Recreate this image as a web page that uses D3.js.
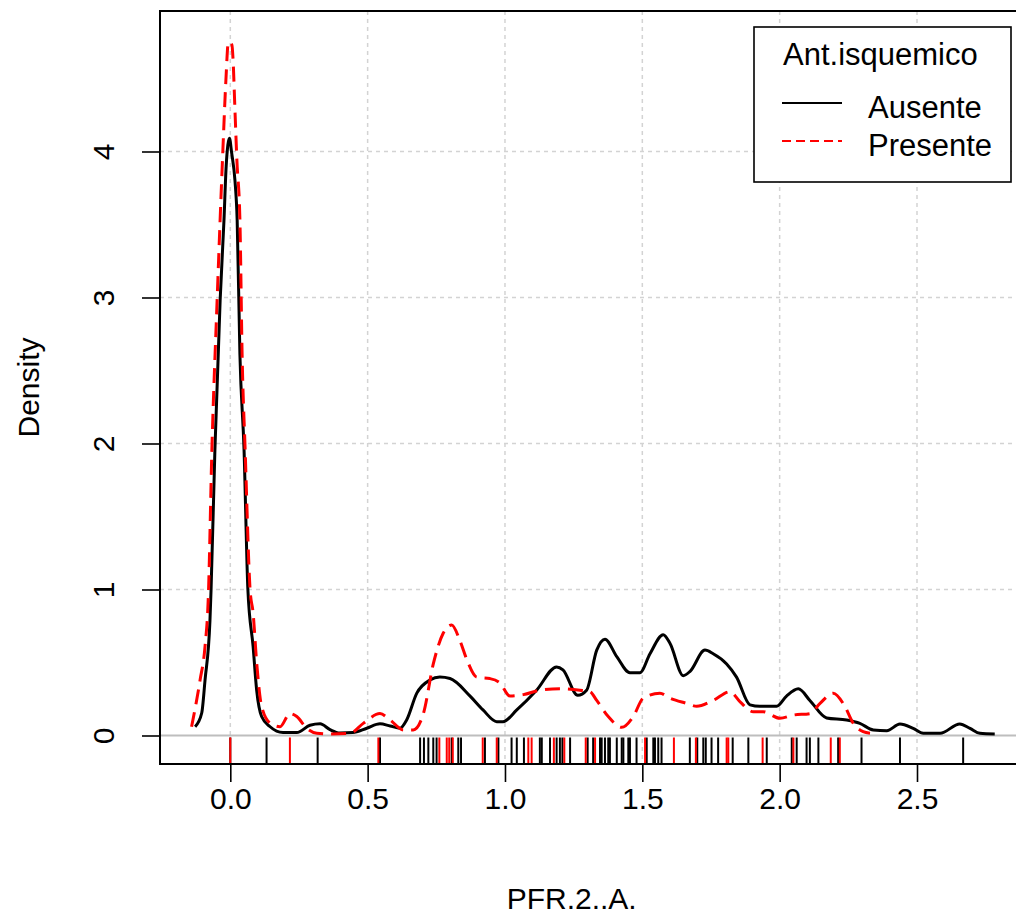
<!DOCTYPE html>
<html>
<head>
<meta charset="utf-8">
<script src="https://cdn.jsdelivr.net/npm/d3@7"></script>
<style>
  html, body { margin: 0; padding: 0; background: #fff; }
  svg { display: block; font-family: "Liberation Sans", Arial, sans-serif; }
</style>
</head>
<body>
<svg id="chart" width="1016" height="920"></svg>
<script>
// Group labels and legend title
const groups = ["Ausente", "Presente"];
const legendTitle = "Ant.isquemico";
const xTitle = "PFR.2..A.";
const yTitle = "Density";

// Axis ticks
const xTicks = [0, 0.5, 1, 1.5, 2, 2.5];
const yTicks = [0, 1, 2, 3, 4];

// Density estimate for Ausente: [PFR.2..A., density]
const ausenteDensity = [
  [-0.128, 0.06], [-0.104, 0.154], [-0.092, 0.38], [-0.074, 0.79], [-0.070, 1.0],
  [-0.056, 1.96], [-0.037, 2.98], [-0.023, 3.53], [-0.015, 3.90], [-0.003, 4.09],
  [0.005, 3.99], [0.017, 3.80], [0.025, 3.53], [0.035, 2.61], [0.050, 1.96],
  [0.064, 1.0], [0.083, 0.61], [0.096, 0.31], [0.114, 0.13], [0.145, 0.06],
  [0.192, 0.02], [0.242, 0.02], [0.290, 0.07], [0.327, 0.08], [0.363, 0.04],
  [0.399, 0.017], [0.446, 0.02], [0.497, 0.05], [0.545, 0.08], [0.582, 0.065],
  [0.618, 0.05], [0.642, 0.106], [0.679, 0.29], [0.727, 0.38], [0.763, 0.40],
  [0.800, 0.39], [0.873, 0.27], [0.920, 0.175], [0.970, 0.095], [0.993, 0.095],
  [1.043, 0.175], [1.115, 0.31], [1.188, 0.47], [1.211, 0.45], [1.265, 0.275],
  [1.297, 0.31], [1.334, 0.585], [1.364, 0.66], [1.407, 0.54], [1.455, 0.43],
  [1.491, 0.43], [1.528, 0.56], [1.576, 0.69], [1.601, 0.63], [1.649, 0.41],
  [1.674, 0.44], [1.728, 0.585], [1.758, 0.56], [1.807, 0.49], [1.843, 0.40],
  [1.892, 0.21], [1.928, 0.20], [1.989, 0.20], [2.025, 0.27], [2.068, 0.32],
  [2.110, 0.24], [2.171, 0.12], [2.244, 0.106], [2.292, 0.083], [2.341, 0.038],
  [2.390, 0.033], [2.438, 0.079], [2.486, 0.049], [2.523, 0.015], [2.584, 0.015],
  [2.656, 0.079], [2.693, 0.049], [2.729, 0.015], [2.783, 0.01]
];

// Density estimate for Presente: [PFR.2..A., density]
const presenteDensity = [
  [-0.141, 0.06], [-0.110, 0.38], [-0.092, 0.61], [-0.080, 0.95], [-0.067, 1.96],
  [-0.048, 2.98], [-0.027, 4.01], [-0.016, 4.49], [-0.007, 4.75], [0.006, 4.73],
  [0.010, 4.63], [0.017, 4.28], [0.024, 3.94], [0.035, 3.53], [0.043, 2.61],
  [0.054, 1.96], [0.072, 1.0], [0.083, 0.84], [0.096, 0.50], [0.114, 0.20],
  [0.145, 0.085], [0.181, 0.06], [0.217, 0.15], [0.242, 0.13], [0.278, 0.05],
  [0.315, 0.015], [0.363, 0.01], [0.436, 0.015], [0.484, 0.083], [0.545, 0.15],
  [0.582, 0.106], [0.630, 0.038], [0.666, 0.038], [0.703, 0.15], [0.739, 0.49],
  [0.775, 0.70], [0.806, 0.757], [0.836, 0.65], [0.861, 0.52], [0.897, 0.40],
  [0.945, 0.39], [0.982, 0.36], [1.018, 0.27], [1.067, 0.28], [1.127, 0.31],
  [1.200, 0.32], [1.273, 0.31], [1.309, 0.30], [1.334, 0.24], [1.376, 0.13],
  [1.425, 0.056], [1.467, 0.13], [1.503, 0.255], [1.564, 0.29], [1.601, 0.255],
  [1.661, 0.22], [1.698, 0.20], [1.758, 0.24], [1.819, 0.30], [1.856, 0.23],
  [1.904, 0.163], [1.940, 0.163], [2.001, 0.118], [2.050, 0.14], [2.110, 0.15],
  [2.147, 0.22], [2.195, 0.29], [2.238, 0.197], [2.268, 0.083], [2.304, 0.026],
  [2.329, 0.015]
];

// Observations (rug) for each group
const ausenteObs = [
  0.0, 0.132, 0.318, 0.545, 0.691, 0.705, 0.721, 0.739, 0.751, 0.806, 0.830, 0.840,
  0.927, 0.976, 1.024, 1.043, 1.069, 1.127, 1.134, 1.164, 1.188, 1.200, 1.209, 1.237,
  1.301, 1.321, 1.346, 1.352, 1.364, 1.376, 1.382, 1.407, 1.425, 1.431, 1.449, 1.455,
  1.479, 1.516, 1.540, 1.546, 1.558, 1.570, 1.673, 1.700, 1.722, 1.731, 1.752, 1.776,
  1.829, 1.886, 1.953, 2.044, 2.062, 2.098, 2.110, 2.141, 2.213, 2.298, 2.438, 2.668
];
const presenteObs = [
  0.0, 0.217, 0.539, 0.761, 0.788, 0.797, 0.810, 0.919, 0.970, 1.085, 1.097, 1.178,
  1.216, 1.294, 1.328, 1.510, 1.615, 1.695, 1.807, 1.813, 1.938, 2.050, 2.186, 2.219
];

const svg = d3.select("#chart");

// Plot region
const plot = { left: 160, right: 1027, top: 11, bottom: 764 };

const x = d3.scaleLinear().domain([0, 2.5]).range([230.3, 917]);
const y = d3.scaleLinear().domain([0, 4]).range([735.5, 151.5]);

const gridColor = "#d3d3d3";
const fontSize = 30;

// Grid
const grid = svg.append("g");
grid.selectAll("line.vg").data(xTicks).join("line")
  .attr("x1", d => x(d)).attr("x2", d => x(d))
  .attr("y1", plot.top).attr("y2", plot.bottom)
  .attr("stroke", gridColor).attr("stroke-width", 1.5).attr("stroke-dasharray", "4,4");
grid.selectAll("line.hg").data(yTicks.filter(d => d !== 0)).join("line")
  .attr("x1", plot.left).attr("x2", plot.right)
  .attr("y1", d => y(d)).attr("y2", d => y(d))
  .attr("stroke", gridColor).attr("stroke-width", 1.5).attr("stroke-dasharray", "4,4");

// Zero-density reference line
svg.append("line")
  .attr("x1", plot.left).attr("x2", plot.right)
  .attr("y1", y(0)).attr("y2", y(0))
  .attr("stroke", "#bebebe").attr("stroke-width", 2);

// Density curves
const line = d3.line()
  .x(d => x(d[0])).y(d => y(d[1]))
  .curve(d3.curveMonotoneX);

svg.append("path").datum(ausenteDensity)
  .attr("d", line).attr("fill", "none")
  .attr("stroke", "#000").attr("stroke-width", 3).attr("stroke-linejoin", "round");

svg.append("path").datum(presenteDensity)
  .attr("d", line).attr("fill", "none")
  .attr("stroke", "#ff0000").attr("stroke-width", 3)
  .attr("stroke-dasharray", "15,8");

// Rugs
const rug = svg.append("g");
rug.selectAll("line.ra").data(ausenteObs).join("line")
  .attr("x1", d => x(d)).attr("x2", d => x(d))
  .attr("y1", y(0) + 2).attr("y2", plot.bottom)
  .attr("stroke", "#000").attr("stroke-width", 2);
rug.selectAll("line.rp").data(presenteObs).join("line")
  .attr("x1", d => x(d)).attr("x2", d => x(d))
  .attr("y1", y(0) + 2).attr("y2", plot.bottom)
  .attr("stroke", "#ff0000").attr("stroke-width", 2);

// Frame
svg.append("rect")
  .attr("x", plot.left).attr("y", plot.top)
  .attr("width", plot.right - plot.left).attr("height", plot.bottom - plot.top)
  .attr("fill", "none").attr("stroke", "#000").attr("stroke-width", 2);

// X axis
const xAxis = svg.append("g")
  .attr("transform", `translate(0,${plot.bottom})`)
  .call(d3.axisBottom(x).tickValues(xTicks).tickFormat(d3.format(".1f")).tickSize(18).tickPadding(6));
xAxis.select(".domain").remove();
xAxis.selectAll(".tick line").attr("stroke", "#000").attr("stroke-width", 1.6);
xAxis.selectAll(".tick text")
  .attr("font-size", fontSize).attr("fill", "#000")
  .attr("font-family", "Liberation Sans, Arial, sans-serif");

// Y axis
const yAxis = svg.append("g")
  .attr("transform", `translate(${plot.left},0)`)
  .call(d3.axisLeft(y).tickValues(yTicks).tickFormat(d3.format("d")).tickSize(18));
yAxis.select(".domain").remove();
yAxis.selectAll(".tick line").attr("stroke", "#000").attr("stroke-width", 1.6);
yAxis.selectAll(".tick text")
  .attr("font-size", fontSize).attr("fill", "#000")
  .attr("font-family", "Liberation Sans, Arial, sans-serif")
  .attr("x", null).attr("dy", null)
  .attr("text-anchor", "middle")
  .attr("transform", "translate(-46,0) rotate(-90)")
  .attr("y", 0);

// Axis titles
svg.append("text")
  .attr("x", x(1.25) - 2).attr("y", 909)
  .attr("text-anchor", "middle").attr("font-size", fontSize)
  .text(xTitle);
svg.append("text")
  .attr("transform", `translate(39,${(plot.top + plot.bottom) / 2}) rotate(-90)`)
  .attr("text-anchor", "middle").attr("font-size", fontSize)
  .text(yTitle);

// Legend
const legend = svg.append("g");
legend.append("rect")
  .attr("x", 754).attr("y", 27).attr("width", 257).attr("height", 155)
  .attr("fill", "#fff").attr("stroke", "#000").attr("stroke-width", 1.6);
legend.append("text")
  .attr("x", 783).attr("y", 65).attr("font-size", 31).text(legendTitle);
const styles = [
  { color: "#000", dash: null },
  { color: "#ff0000", dash: "9,5" }
];
groups.forEach((g, i) => {
  const ly = 103 + i * 38;
  legend.append("line")
    .attr("x1", 782).attr("x2", 842).attr("y1", ly).attr("y2", ly)
    .attr("stroke", styles[i].color).attr("stroke-width", 2)
    .attr("stroke-dasharray", styles[i].dash);
  legend.append("text")
    .attr("x", 868).attr("y", ly + 15).attr("font-size", 31).text(g);
});
</script>
</body>
</html>
